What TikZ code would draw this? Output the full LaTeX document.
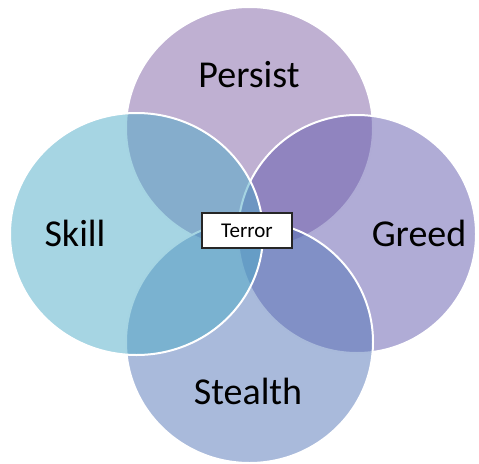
\documentclass[tikz,border=0pt]{standalone}
\usepackage{fontspec}
\setmainfont{Carlito}
\begin{document}
\begin{tikzpicture}[x=1pt,y=-1pt,
  blob/.style={fill=#1, fill opacity=0.5, draw=white, draw opacity=1, line width=2pt},
  biglabel/.style={font=\fontsize{38}{40}\selectfont, text=black, inner sep=0pt},
  centerbox/.style={draw=black!85, line width=1.2pt, fill=white, minimum width=90pt, minimum height=35pt, inner sep=0pt, font=\fontsize{21}{24}\selectfont}]
\definecolor{cpersist}{RGB}{127,97,165}
\definecolor{cgreed}{RGB}{97,89,173}
\definecolor{cstealth}{RGB}{83,117,183}
\definecolor{cskill}{RGB}{77,171,199}
\useasboundingbox (0,0) rectangle (479,463);
\path[blob=cpersist] (249.5,128) ellipse [x radius=123.5pt, y radius=121pt];
\path[blob=cgreed] (357,234) ellipse [x radius=119pt, y radius=119pt];
\path[blob=cstealth] (249.5,342) ellipse [x radius=123.5pt, y radius=121pt];
\path[blob=cskill] (136.5,234) ellipse [x radius=126.5pt, y radius=121pt];
\node[biglabel] (persist) at (249,75) {Persist};
\node[biglabel] (skill) at (75,233) {Skill};
\node[biglabel] (greed) at (419,233) {Greed};
\node[biglabel] (stealth) at (248,391) {Stealth};
\node[centerbox] (terror) at (247,230.5) {Terror};
\end{tikzpicture}
\end{document}
